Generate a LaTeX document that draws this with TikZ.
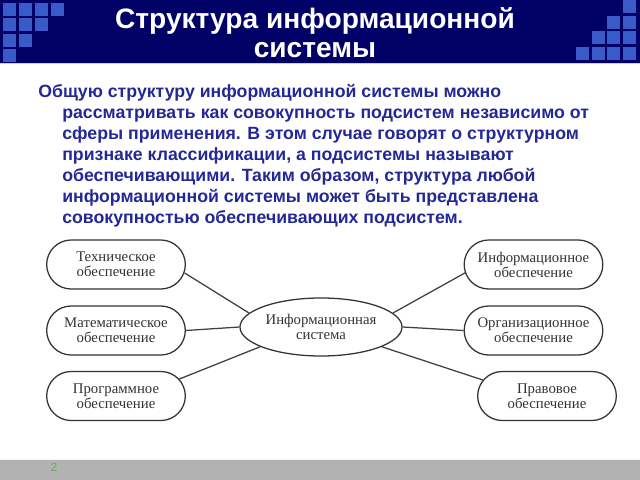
\documentclass[tikz,border=0pt]{standalone}
\usepackage{fontspec}
\setmainfont{Liberation Serif}
\newfontfamily\headfont{Liberation Sans}
\usetikzlibrary{shapes.misc,shapes.geometric}

\definecolor{bandblue}{RGB}{0,0,102}
\definecolor{tileblue}{RGB}{58,90,200}
\definecolor{textblue}{RGB}{36,40,150}
\definecolor{footgray}{RGB}{178,178,178}
\definecolor{pagegreen}{RGB}{110,165,100}

\tikzset{
	subsys/.style={draw=black!80, line width=0.9pt, rounded rectangle,
		minimum width=3.7cm, minimum height=1.225cm, align=center,
		text=black!80, font=\fontsize{10.5}{10.7}\selectfont},
	core/.style={draw=black!80, line width=0.9pt, ellipse,
		minimum width=4.05cm, minimum height=1.45cm, inner sep=0pt, align=center,
		text=black!80, font=\fontsize{10.5}{10.7}\selectfont},
	link/.style={draw=black!75, line width=0.9pt},
	bodyline/.style={anchor=base west, inner sep=0pt, text=textblue,
		font=\headfont\bfseries\fontsize{12.6}{15}\selectfont},
	headline/.style={anchor=base, inner sep=0pt, text=white,
		font=\headfont\bfseries\fontsize{20}{24}\selectfont},
}

\begin{document}
\begin{tikzpicture}[
		x={(0.025cm,0cm)},
		y={(0cm,-0.025cm)},
	]
	\useasboundingbox (0,0) rectangle (640,480);

	% header band
	\fill[bandblue] (0,0) rectangle (640,63);
	\draw[white!80!bandblue, line width=0.6pt] (0,63.5) -- (640,63.5);
	\foreach \r/\k in {0/4, 1/3, 2/2, 3/1}{
		\foreach \c in {1,...,\k}{
			\fill[tileblue] ({3+16*(\c-1)},{3+15.4*\r}) rectangle ++(13,13);
		}
	}
	\foreach \r/\k in {0/1, 1/2, 2/3, 3/4}{
		\foreach \c in {1,...,\k}{
			\fill[tileblue] ({623-15.6*(\c-1)},{0+15.7*\r}) rectangle ++(13,13);
		}
	}
	\node[headline] (title) at (315,29) {Структура информационной};
	\node[headline] (title2) at (315,58) {системы};

	% body text
	\node[bodyline] (line1) at (38,97) {Общую структуру информационной системы можно};
	\foreach \n/\y/\t in {2/118/{рассматривать как совокупность подсистем независимо от},
		3/139/{сферы применения. В этом случае говорят о структурном},
		4/160/{признаке классификации, а подсистемы называют},
		5/181/{обеспечивающими. Таким образом, структура любой},
		6/202/{информационной системы может быть представлена},
		7/223/{совокупностью обеспечивающих подсистем.}}{
		\node[bodyline] (line\n) at (62,\y) {\t};
	}

	% diagram
	\node[core] (is) at (321,327) {Информационная\\система};
	\node[subsys] (t1) at (116,264.5) {Техническое\\обеспечение};
	\node[subsys] (m1) at (116,330.5) {Математическое\\обеспечение};
	\node[subsys] (p1) at (116,396) {Программное\\обеспечение};
	\node[subsys] (i2) at (533.5,264.5) {Информационное\\обеспечение};
	\node[subsys] (o2) at (533.5,330.5) {Организационное\\обеспечение};
	\node[subsys] (r2) at (547,396) {Правовое\\обеспечение};

	\draw[link] (t1.-7) -- (is.169);
	\draw[link] (m1.east) -- (is.west);
	\draw[link] (p1.15) -- (is.198);
	\draw[link] (is.11) -- (i2.187);
	\draw[link] (is.east) -- (o2.west);
	\draw[link] (is.-18) -- (r2.166);

	% footer
	\fill[footgray] (0,459) rectangle (640,480);
	\draw[white!85!footgray, line width=0.6pt] (0,459) -- (640,459);
	\node[text=pagegreen, font=\headfont\fontsize{8.5}{9}\selectfont] (page) at (54,467) {2};
\end{tikzpicture}
\end{document}
